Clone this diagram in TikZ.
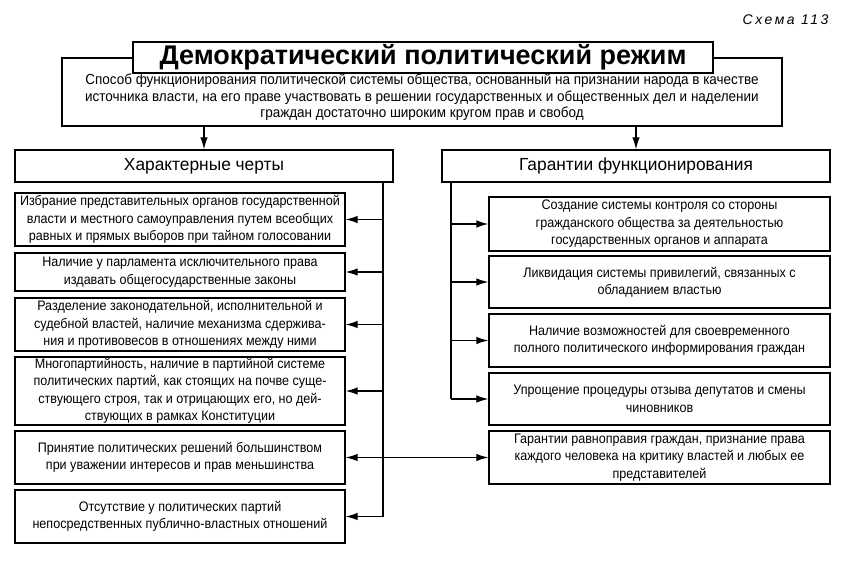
\documentclass[tikz,border=0pt]{standalone}
\usepackage{fontspec}
\setmainfont{Liberation Sans}
\newfontfamily\itemfont{Liberation Sans}[FakeStretch=0.91]
\newfontfamily\descfont{Liberation Sans}[FakeStretch=0.93]
\newfontfamily\headfont{Liberation Sans}[FakeStretch=0.99]
\newfontfamily\schfont{Liberation Sans}[LetterSpace=18]
\usetikzlibrary{arrows.meta}
\begin{document}
\begin{tikzpicture}[x=1pt,y=-1pt,
  box/.style={draw,line width=1.3pt,fill=white,inner sep=0pt,align=center},
  itembox/.style={box,font=\itemfont\fontsize{13.8}{17.4}\selectfont},
  headbox/.style={box,font=\headfont\fontsize{17.5}{20}\selectfont},
  tip/.tip={Latex[length=12pt,width=7.5pt]},
  arr/.style={line width=1.2pt,-tip},
  dbl/.style={line width=1.2pt,tip-tip},
  bus/.style={line width=1.2pt}]
\useasboundingbox (0,0) rectangle (850,561);
\node[anchor=east,font=\schfont\itshape\fontsize{14}{16}\selectfont] (sch) at (832,20) {Схема 113};
% description and title
\node[box,minimum width=720pt,minimum height=68pt,font=\descfont\fontsize{14.5}{16.5}\selectfont] (desc) at (422,92) {\\[5pt]Способ функционирования политической системы общества, основанный на признании народа в качестве\\источника власти, на его праве участвовать в решении государственных и общественных дел и наделении\\граждан достаточно широким кругом прав и свобод};
\node[box,minimum width=580pt,minimum height=31pt,font=\bfseries\fontsize{27}{30}\selectfont] (title) at (423,57.5) {Демократический политический режим};
% headers
\node[headbox,minimum width=378pt,minimum height=32pt] (lh) at (204,166) {Характерные черты};
\node[headbox,minimum width=388pt,minimum height=32pt] (rh) at (636,166) {Гарантии функционирования};
% left items
\node[itembox,minimum width=330pt,minimum height=53pt] (l1) at (180,219.5) {Избрание представительных органов государственной\\власти и местного самоуправления путем всеобщих\\равных и прямых выборов при тайном голосовании};
\node[itembox,minimum width=330pt,minimum height=38pt] (l2) at (180,272) {Наличие у парламента исключительного права\\издавать общегосударственные законы};
\node[itembox,minimum width=330pt,minimum height=53pt] (l3) at (180,324.5) {Разделение законодательной, исполнительной и\\судебной властей, наличие механизма сдержива-\\ния и противовесов в отношениях между ними};
\node[itembox,minimum width=330pt,minimum height=68pt] (l4) at (180,391) {Многопартийность, наличие в партийной системе\\политических партий, как стоящих на почве суще-\\ствующего строя, так и отрицающих его, но дей-\\ствующих в рамках Конституции};
\node[itembox,minimum width=330pt,minimum height=53pt] (l5) at (180,457.5) {Принятие политических решений большинством\\при уважении интересов и прав меньшинства};
\node[itembox,minimum width=330pt,minimum height=53pt] (l6) at (180,516.5) {Отсутствие у политических партий\\непосредственных публично-властных отношений};
% right items
\node[itembox,minimum width=341pt,minimum height=54pt] (r1) at (659.5,224) {Создание системы контроля со стороны\\гражданского общества за деятельностью\\государственных органов и аппарата};
\node[itembox,minimum width=341pt,minimum height=52pt] (r2) at (659.5,282) {Ликвидация системы привилегий, связанных с\\обладанием властью};
\node[itembox,minimum width=341pt,minimum height=53pt] (r3) at (659.5,340.5) {Наличие возможностей для своевременного\\полного политического информирования граждан};
\node[itembox,minimum width=341pt,minimum height=52pt] (r4) at (659.5,399) {Упрощение процедуры отзыва депутатов и смены\\чиновников};
\node[itembox,minimum width=341pt,minimum height=53pt] (r5) at (659.5,457.5) {Гарантии равноправия граждан, признание права\\каждого человека на критику властей и любых ее\\представителей};
% connectors
\draw[arr] (desc.south -| lh.north) -- (lh.north);
\draw[arr] (desc.south -| rh.north) -- (rh.north);
\coordinate (lbus) at (383,0);
\coordinate (rbus) at (451,0);
\draw[bus] (lh.south -| lbus) -- (l6.east -| lbus);
\foreach \n in {l1,l2,l3,l4,l6} \draw[arr] (\n.east -| lbus) -- (\n.east);
\draw[bus] (rh.south -| rbus) -- (r4.west -| rbus);
\foreach \n in {r1,r2,r3,r4} \draw[arr] (\n.west -| rbus) -- (\n.west);
\draw[dbl] (l5.east) -- (r5.west);
\end{tikzpicture}
\end{document}
